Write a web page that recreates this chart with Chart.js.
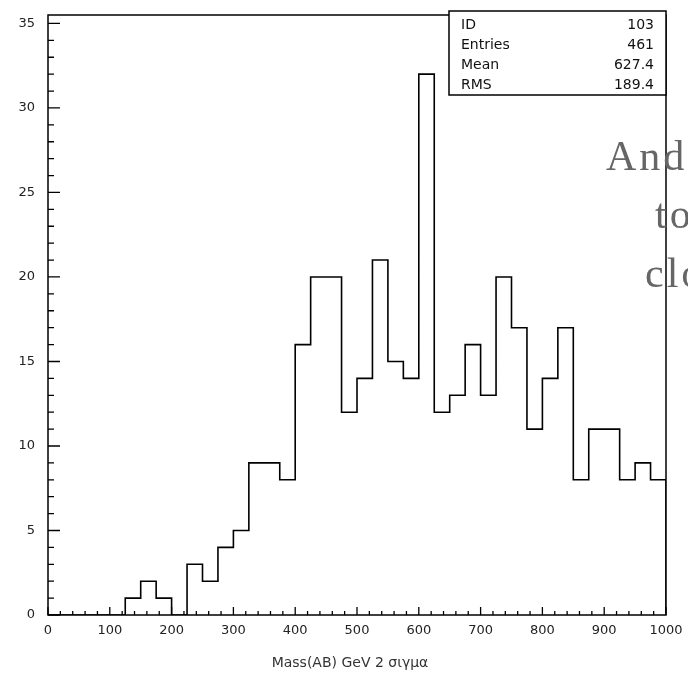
<!DOCTYPE html>
<html>
<head>
<meta charset="utf-8">
<script src="https://cdn.jsdelivr.net/npm/chart.js@4.4.1/dist/chart.umd.min.js"></script>
<style>
  html, body { margin: 0; padding: 0; background: #fff; }
  canvas { display: block; }
</style>
</head>
<body>
<canvas id="c" width="688" height="673"></canvas>
<script>
// histogram bins (edges, GeV) and counts per bin
var binEdges = [0, 25, 50, 75, 100, 125, 150, 175, 200, 225, 250, 275, 300, 325, 350, 375,
  400, 425, 450, 475, 500, 525, 550, 575, 600, 625, 650, 675, 700, 725, 750, 775,
  800, 825, 850, 875, 900, 925, 950, 975, 1000];
var counts = [0, 0, 0, 0, 0, 1, 2, 1, 0, 3, 2, 4, 5, 9, 9, 8,
  16, 20, 20, 12, 14, 21, 15, 14, 32, 12, 13, 16, 13, 20, 17, 11,
  14, 17, 8, 11, 11, 8, 9, 8];

var xTickLabels = [0, 100, 200, 300, 400, 500, 600, 700, 800, 900, 1000];
var yTickLabels = [0, 5, 10, 15, 20, 25, 30, 35];

var statsLabels = ['ID', 'Entries', 'Mean', 'RMS'];
var statsValues = ['103', '461', '627.4', '189.4'];

var xTitle = 'Mass(AB) GeV 2 \u03c3\u03b9\u03b3\u03bc\u03b1';

// points at left bin edges, last edge drops back to 0
var points = binEdges.map(function (x, i) {
  return { x: x, y: i < counts.length ? counts[i] : 0 };
});

var tickFont = { family: 'DejaVu Sans', size: 13 };

// frame, inward ticks, stats box and stray scanned text
var framePlugin = {
  id: 'frame',
  afterDraw: function (chart) {
    var ctx = chart.ctx;
    var area = chart.chartArea;
    var xs = chart.scales.x;
    var ys = chart.scales.y;

    ctx.save();
    ctx.strokeStyle = '#000';
    ctx.lineWidth = 1.5;
    ctx.strokeRect(area.left, area.top, area.right - area.left, area.bottom - area.top);

    // y ticks every unit, long every 5
    ctx.lineWidth = 1.3;
    ctx.beginPath();
    for (var v = 0; v <= 35; v++) {
      var py = ys.getPixelForValue(v);
      var len = v % 5 === 0 ? 12 : 6;
      ctx.moveTo(area.left, py);
      ctx.lineTo(area.left + len, py);
    }
    // x ticks every 20, long every 100
    for (var u = 0; u <= 1000; u += 20) {
      var px = xs.getPixelForValue(u);
      var l = u % 100 === 0 ? 8 : 4;
      ctx.moveTo(px, area.bottom);
      ctx.lineTo(px, area.bottom - l);
    }
    ctx.stroke();

    // stats box
    var bx = area.right - 217, by = area.top - 4, bw = 217, bh = 84;
    ctx.fillStyle = '#fff';
    ctx.fillRect(bx, by, bw, bh);
    ctx.lineWidth = 1.5;
    ctx.strokeRect(bx, by, bw, bh);
    ctx.fillStyle = '#111';
    ctx.font = '14px "DejaVu Sans"';
    ctx.textBaseline = 'middle';
    for (var i = 0; i < statsLabels.length; i++) {
      var ty = by + 14 + i * 20;
      ctx.textAlign = 'left';
      ctx.fillText(statsLabels[i], bx + 12, ty);
      ctx.textAlign = 'right';
      ctx.fillText(statsValues[i], bx + bw - 12, ty);
    }

    // x title
    ctx.textAlign = 'center';
    ctx.fillStyle = '#333';
    ctx.font = '14px "DejaVu Sans"';
    ctx.fillText(xTitle, 350, 663);

    // text bleeding through from the other page
    ctx.fillStyle = '#666';
    ctx.textAlign = 'left';
    ctx.textBaseline = 'alphabetic';
    ctx.font = '42px "Liberation Serif"';
    ctx.letterSpacing = '3px';
    ctx.fillText('And', 606, 170);
    ctx.fillText('to', 655, 228);
    ctx.fillText('clo', 645, 287);
    ctx.restore();
  }
};

function noPad(scale) {
  scale.paddingTop = 0;
  scale.paddingBottom = 0;
  scale.paddingLeft = 0;
  scale.paddingRight = 0;
}

new Chart(document.getElementById('c'), {
  type: 'line',
  data: {
    datasets: [{
      data: points,
      stepped: 'before',
      borderColor: '#000',
      borderWidth: 1.6,
      pointRadius: 0,
      fill: false
    }]
  },
  options: {
    responsive: false,
    animation: false,
    layout: { padding: { top: 15, right: 22, left: 0, bottom: 0 } },
    plugins: { legend: { display: false }, tooltip: { enabled: false } },
    scales: {
      x: {
        type: 'linear',
        min: 0,
        max: 1000,
        afterBuildTicks: function (scale) {
          scale.ticks = xTickLabels.map(function (v) { return { value: v }; });
        },
        afterFit: function (scale) { scale.height = 58; noPad(scale); },
        ticks: {
          font: tickFont, color: '#222', padding: 8, maxRotation: 0, autoSkip: false,
          callback: function (v) { return String(v); }
        },
        grid: { display: false, drawTicks: false },
        border: { display: false }
      },
      y: {
        min: 0,
        max: 35.5,
        afterBuildTicks: function (scale) {
          scale.ticks = yTickLabels.map(function (v) { return { value: v }; });
        },
        afterFit: function (scale) { scale.width = 48; noPad(scale); },
        ticks: {
          font: tickFont, color: '#222', padding: 13,
          callback: function (v) { return String(v); }
        },
        grid: { display: false, drawTicks: false },
        border: { display: false }
      }
    }
  },
  plugins: [framePlugin]
});
</script>
</body>
</html>
